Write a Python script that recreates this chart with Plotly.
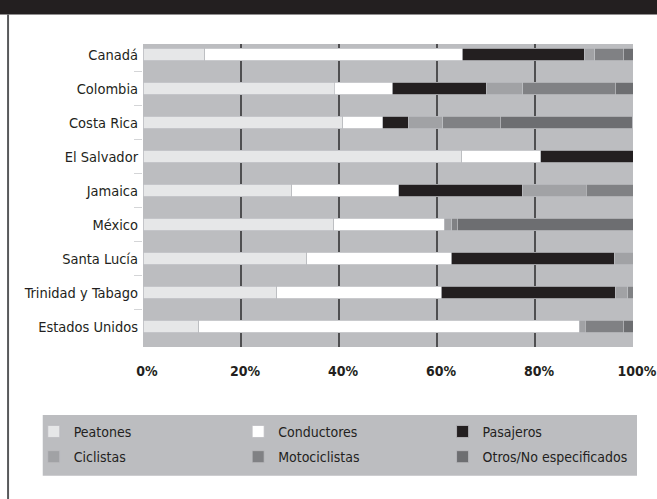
import plotly.graph_objects as go

countries = ["Canadá", "Colombia", "Costa Rica", "El Salvador", "Jamaica",
             "México", "Santa Lucía", "Trinidad y Tabago", "Estados Unidos"]

peatones      = [12.6, 39.0, 40.8, 65.0, 30.4, 38.9, 33.4, 27.3, 11.4]
conductores   = [52.6, 11.9,  8.1, 16.2, 21.8, 22.6, 29.5, 33.6, 77.6]
pasajeros     = [24.9, 19.1,  5.2, 18.8, 25.3,  0.0, 33.3, 35.6,  0.0]
ciclistas     = [ 2.1,  7.5,  7.1,  0.0, 13.0,  1.5,  3.8,  2.4,  1.3]
motociclistas = [ 5.8, 18.9, 11.7,  0.0,  9.5,  1.1,  0.0,  1.1,  7.7]
otros         = [ 2.0,  3.6, 26.9,  0.0,  0.0, 35.9,  0.0,  0.0,  2.0]

x_tickvals = [0, 20, 40, 60, 80, 100]
x_ticktext = ["0%", "20%", "40%", "60%", "80%", "100%"]

series = [
    ("Peatones", peatones, "#e6e7e8", "legend"),
    ("Conductores", conductores, "#ffffff", "legend2"),
    ("Pasajeros", pasajeros, "#231f20", "legend3"),
    ("Ciclistas", ciclistas, "#a1a2a5", "legend"),
    ("Motociclistas", motociclistas, "#808184", "legend2"),
    ("Otros/No especificados", otros, "#6d6e71", "legend3"),
]

FONT = "DejaVu Sans Condensed, Liberation Sans Narrow, Arial Narrow, sans-serif"
BG = "#bcbdc0"
INK = "#231f20"

W, H = 657, 499
L, R, T, B = 143.3, 657 - 633.5, 43.5, 499 - 347
PW, PH = W - L - R, H - T - B


def px(x):
    return (x - L) / PW


def py(y):
    return (H - B - y) / PH


fig = go.Figure()
for name, vals, color, leg in series:
    fig.add_trace(go.Bar(
        y=countries, x=vals, name=name, orientation="h",
        marker=dict(color=color, line=dict(color=BG, width=0.8)),
        width=0.36, legend=leg, legendgroup=name,
    ))

legend_common = dict(
    bgcolor="rgba(0,0,0,0)", borderwidth=0, orientation="v",
    font=dict(family=FONT, size=14, color=INK), tracegroupgap=4,
    xanchor="left", yanchor="top", traceorder="grouped",
)
ly = py(416)
fig.update_layout(
    legend=dict(x=px(34), y=ly, **legend_common),
    legend2=dict(x=px(238.5), y=ly, **legend_common),
    legend3=dict(x=px(443), y=ly, **legend_common),
)

fig.update_layout(
    width=W, height=H, barmode="stack",
    paper_bgcolor="white", plot_bgcolor=BG,
    margin=dict(l=L, r=R, t=T, b=B, autoexpand=False),
    showlegend=True,
    xaxis=dict(range=[0, 100], tickvals=x_tickvals, ticktext=x_ticktext,
               showgrid=True, gridcolor="#4f4f51", gridwidth=1.5,
               zeroline=False, showline=False, ticks="",
               ticklabelstandoff=14, ticklabelshift=4,
               ticklabeloverflow="allow",
               tickfont=dict(family=FONT, size=14, color=INK, weight="bold")),
    yaxis=dict(type="category", range=[8.60, -0.31], tickson="boundaries",
               ticks="outside", ticklen=8, tickcolor="#d4d5d7", tickwidth=1,
               showgrid=False, zeroline=False, showline=False,
               ticklabelstandoff=4,
               tickfont=dict(family=FONT, size=14.5, color=INK)),
    shapes=[
        dict(type="rect", xref="paper", yref="paper", layer="below",
             x0=px(43), x1=px(637.5), y0=py(415), y1=py(476),
             fillcolor=BG, line=dict(width=0)),
        dict(type="rect", xref="paper", yref="paper", layer="above",
             x0=px(-5), x1=px(W + 5), y0=py(-5), y1=py(14),
             fillcolor=INK, line=dict(width=0)),
        dict(type="line", xref="paper", yref="paper", layer="above",
             x0=px(8.3), x1=px(8.3), y0=py(14), y1=py(H + 5),
             line=dict(color="#58595b", width=2)),
    ],
)

fig.write_html(
    "out.html",
    config={"displayModeBar": False},
    post_script="document.body.style.margin='0px';"
                "document.body.style.overflow='hidden';",
)
